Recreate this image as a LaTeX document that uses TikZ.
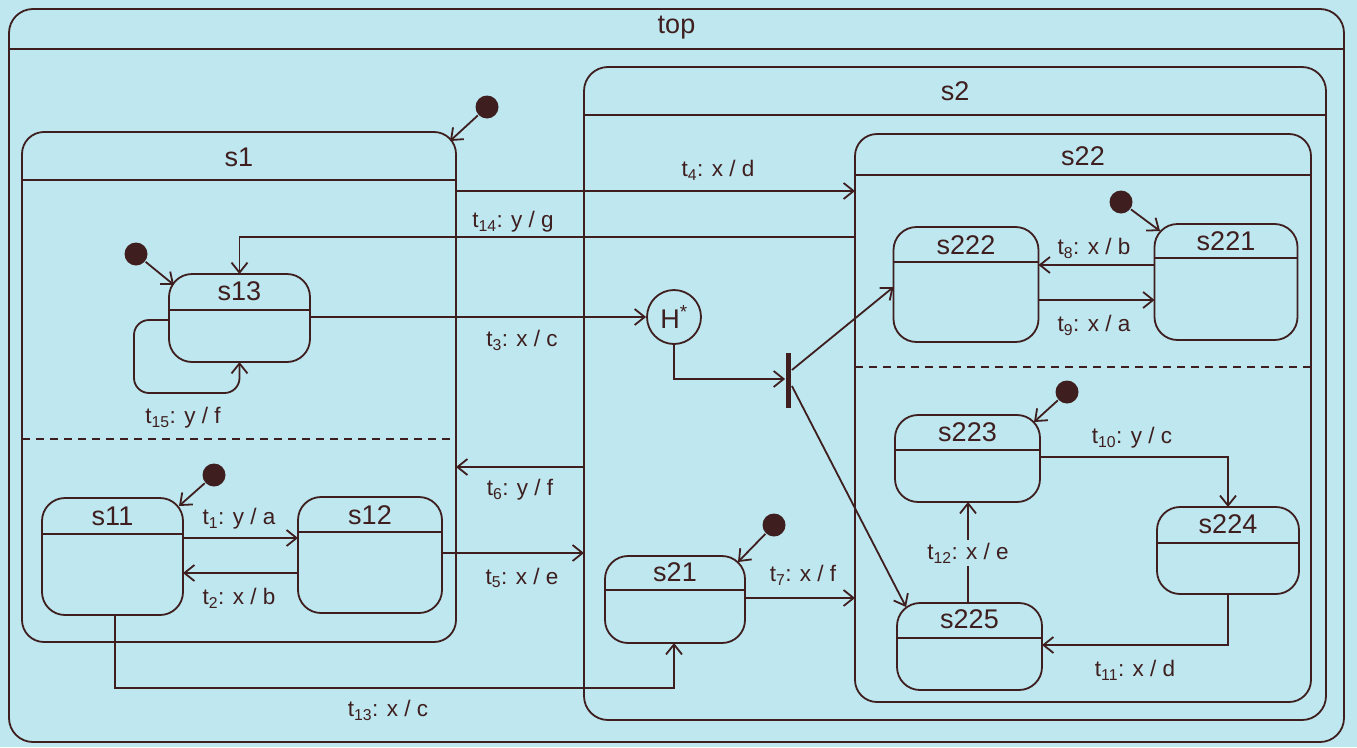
\documentclass[tikz,border=0pt]{standalone}
\usepackage{fontspec}
\setmainfont{Liberation Sans}
\usetikzlibrary{arrows.meta}
\definecolor{bg}{RGB}{190,231,239}
\definecolor{ln}{RGB}{62,30,30}
\begin{document}
\begin{tikzpicture}[x=1pt,y=-1pt,line width=1.8pt,color=ln,
  stbox/.style={draw,rounded corners=23pt,inner sep=0pt,outer sep=0pt},
  ttl/.style={font=\fontsize{27}{29}\selectfont,inner sep=0pt},
  lbl/.style={font=\fontsize{22.5}{24}\selectfont,inner sep=1pt},
  tr/.style={-{Straight Barb[length=10pt,width=16pt]}},
  initdot/.style={circle,fill,minimum size=23pt,inner sep=0pt},
  region/.style={dashed,dash pattern=on 8pt off 6pt}]
\fill[bg] (0,0) rectangle (1357,747);
\useasboundingbox (0,0) rectangle (1357,747);
% ---- top
\node[stbox,rounded corners=24pt,minimum width=1335pt,minimum height=733pt] (top) at (676.5,375.5) {};
\draw (top.west |- 0,49) -- (top.east |- 0,49);
\node[ttl] (topt) at (676.5,28) {top};
% ---- s2
\node[stbox,rounded corners=24pt,minimum width=742pt,minimum height=653pt] (s2) at (955,393.5) {};
\draw (s2.west |- 0,115) -- (s2.east |- 0,115);
\node[ttl] (s2t) at (955,91) {s2};
% ---- s1
\node[stbox,rounded corners=22pt,minimum width=434pt,minimum height=510pt] (s1) at (239,387) {};
\draw (s1.west |- 0,180) -- (s1.east |- 0,180);
\node[ttl] (s1t) at (239,157) {s1};
\draw[region] (s1.west |- 0,439) -- (s1.east |- 0,439);
% ---- s22
\node[stbox,rounded corners=22pt,minimum width=456pt,minimum height=568pt] (s22) at (1083,418) {};
\draw (s22.west |- 0,175) -- (s22.east |- 0,175);
\node[ttl] (s22t) at (1083,156) {s22};
\draw[region] (s22.west |- 0,367) -- (s22.east |- 0,367);
% ---- simple states
\node[stbox,minimum width=141pt,minimum height=88pt] (s13) at (239.5,318) {};
\draw (s13.west |- 0,310) -- (s13.east |- 0,310);
\node[ttl] (s13t) at (239.5,291) {s13};
\node[stbox,minimum width=141pt,minimum height=117pt] (s11) at (112.5,556.5) {};
\draw (s11.west |- 0,534) -- (s11.east |- 0,534);
\node[ttl] (s11t) at (112.5,516) {s11};
\node[stbox,minimum width=144pt,minimum height=116pt] (s12) at (370,555) {};
\draw (s12.west |- 0,532) -- (s12.east |- 0,532);
\node[ttl] (s12t) at (370,515) {s12};
\node[stbox,minimum width=140pt,minimum height=87pt] (s21) at (675,599.5) {};
\draw (s21.west |- 0,590) -- (s21.east |- 0,590);
\node[ttl] (s21t) at (675,572) {s21};
\node[stbox,minimum width=145pt,minimum height=115pt] (s222) at (966,284.5) {};
\draw (s222.west |- 0,262) -- (s222.east |- 0,262);
\node[ttl] (s222t) at (966,245) {s222};
\node[stbox,minimum width=143pt,minimum height=116pt] (s221) at (1226,282) {};
\draw (s221.west |- 0,258) -- (s221.east |- 0,258);
\node[ttl] (s221t) at (1226,241) {s221};
\node[stbox,minimum width=145pt,minimum height=87pt] (s223) at (967.5,458.5) {};
\draw (s223.west |- 0,450) -- (s223.east |- 0,450);
\node[ttl] (s223t) at (967.5,432) {s223};
\node[stbox,minimum width=142pt,minimum height=87pt] (s224) at (1228,550.5) {};
\draw (s224.west |- 0,543) -- (s224.east |- 0,543);
\node[ttl] (s224t) at (1228,524) {s224};
\node[stbox,minimum width=145pt,minimum height=87pt] (s225) at (969.5,646.5) {};
\draw (s225.west |- 0,638) -- (s225.east |- 0,638);
\node[ttl] (s225t) at (969.5,619) {s225};
% ---- history and fork
\node[circle,draw,minimum size=54pt,inner sep=0pt,font=\fontsize{27}{29}\selectfont] (hist) at (674,317) {H\textsuperscript{*}};
\node[fill,minimum width=5pt,minimum height=55pt,inner sep=0pt] (fork) at (788.5,380) {};
% ---- initial pseudostates
\node[initdot] (i1) at (487,107) {};
\node[initdot] (i13) at (136,254) {};
\node[initdot] (i11) at (214,475) {};
\node[initdot] (i21) at (774,525) {};
\node[initdot] (i221) at (1121,202) {};
\node[initdot] (i223) at (1067,392) {};
\coordinate (c1) at (450,141);
\coordinate (c13) at (174,285);
\coordinate (c11) at (179,506);
\coordinate (c21) at (738,562);
\coordinate (c221) at (1160,231);
\coordinate (c223) at (1034,422);
\coordinate (c225) at (906,607);
\draw[tr] (i1) -- (c1);
\draw[tr] (i13) -- (c13);
\draw[tr] (i11) -- (c11);
\draw[tr] (i21) -- (c21);
\draw[tr] (i221) -- (c221);
\draw[tr] (i223) -- (c223);
% ---- transitions
\draw[tr] (s11.east |- 0,538) -- (s12.west |- 0,538);
\node[lbl] (t1) at (239,519) {t\textsubscript{1}: y / a};
\draw[tr] (s12.west |- 0,573) -- (s11.east |- 0,573);
\node[lbl] (t2) at (239,598) {t\textsubscript{2}: x / b};
\draw[tr] (s13.east |- hist.west) -- (hist.west);
\node[lbl] (t3) at (522,340) {t\textsubscript{3}: x / c};
\draw[tr] (s1.east |- 0,191) -- (s22.west |- 0,191);
\node[lbl] (t4) at (718,170) {t\textsubscript{4}: x / d};
\draw[tr] (s12.east |- 0,553) -- (s2.west |- 0,553);
\node[lbl] (t5) at (522,578) {t\textsubscript{5}: x / e};
\draw[tr] (s2.west |- 0,467) -- (s1.east |- 0,467);
\node[lbl] (t6) at (520,490) {t\textsubscript{6}: y / f};
\draw[tr] (s21.east |- 0,598) -- (s22.west |- 0,598);
\node[lbl] (t7) at (803,575) {t\textsubscript{7}: x / f};
\draw[tr] (s221.west |- 0,265) -- (s222.east |- 0,265);
\node[lbl] (t8) at (1094,248) {t\textsubscript{8}: x / b};
\draw[tr] (s222.east |- 0,300) -- (s221.west |- 0,300);
\node[lbl] (t9) at (1094,325) {t\textsubscript{9}: x / a};
\draw[tr] (s223.east |- 0,457) -| (s224.north);
\node[lbl] (t10) at (1132,438) {t\textsubscript{10}: y / c};
\draw[tr] (s224.south) |- (s225.east |- 0,645);
\node[lbl] (t11) at (1135,670) {t\textsubscript{11}: x / d};
\draw[tr] (s225.north -| 968,0) -- (s223.south -| 968,0);
\node[lbl,fill=bg,inner sep=3pt] (t12) at (968,553) {t\textsubscript{12}: x / e};
\draw[tr] (s11.south -| 115,0) |- (674,688) -- (s21.south -| 674,0);
\node[lbl] (t13) at (388,710) {t\textsubscript{13}: x / c};
\draw[tr] (s22.west |- 0,237) -| (s13.north);
\node[lbl] (t14) at (513,222) {t\textsubscript{14}: y / g};
\draw[tr,rounded corners=15pt] (s13.west |- 0,320) -| (134,393) -| (s13.south);
\node[lbl] (t15) at (183,418) {t\textsubscript{15}: y / f};
% ---- history -> fork -> regions
\draw[tr] (hist.south) |- (fork.west |- 0,379);
\draw[tr] (fork.east |- 0,370) -- (s222.west |- 0,287);
\draw[tr] (fork.east |- 0,386) -- (c225);
\end{tikzpicture}
\end{document}
